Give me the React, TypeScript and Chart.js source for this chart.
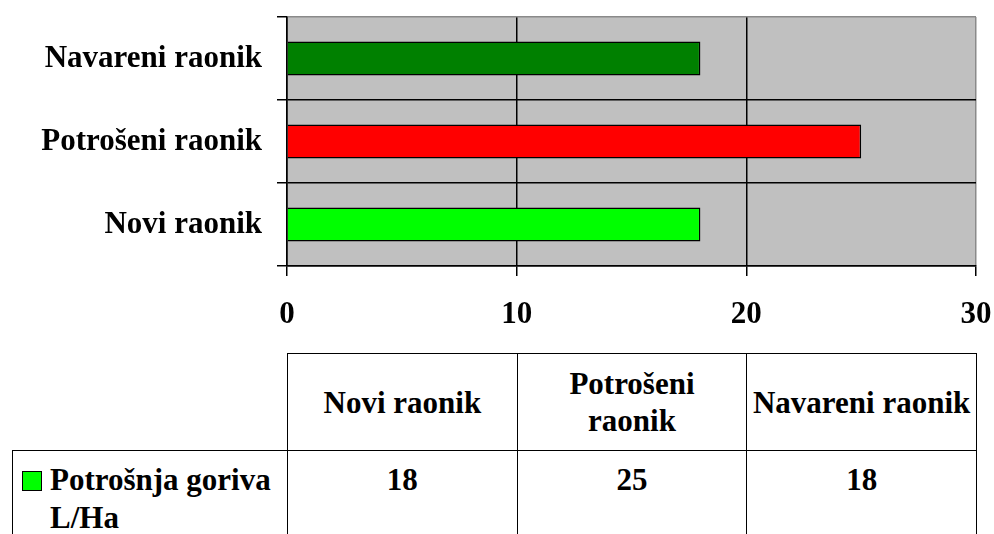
import React, { useEffect, useRef } from "react";
import { Chart, registerables } from "chart.js";

Chart.register(...registerables);

const categories = ["Novi raonik", "Potrošeni raonik", "Navareni raonik"];
const tableHeaders = ["Novi raonik", "Potrošeni\nraonik", "Navareni raonik"];
const fuelUse = [18, 25, 18];
const seriesName = "Potrošnja goriva L/Ha";
const xTickValues = [0, 10, 20, 30];
const barColors = ["#00FF00", "#FF0000", "#008000"];
const legendColor = "#00FF00";

const FONT = '"Liberation Serif", "Times New Roman", serif';
const CANVAS_H = 345;

export default function App() {
  const ref = useRef<HTMLCanvasElement>(null);

  useEffect(() => {
    const plotBg = {
      id: "plotBg",
      beforeDraw(chart: any) {
        const { ctx, chartArea: a } = chart;
        ctx.save();
        ctx.fillStyle = "#C0C0C0";
        ctx.fillRect(a.left, a.top, a.right - a.left, a.bottom - a.top);
        ctx.restore();
      },
    };
    const tickFont = { family: FONT, size: 31, weight: "bold" as const };
    const chart = new Chart(ref.current as HTMLCanvasElement, {
      type: "bar",
      data: {
        labels: categories,
        datasets: [
          {
            label: seriesName,
            data: fuelUse,
            backgroundColor: barColors,
            borderColor: "#000",
            borderWidth: 1.5,
            barPercentage: 0.41,
            categoryPercentage: 1,
          },
        ],
      },
      options: {
        indexAxis: "y",
        responsive: false,
        animation: false,
        devicePixelRatio: 1,
        layout: { padding: { top: 17, right: 18, left: 0, bottom: 0 } },
        plugins: { legend: { display: false }, tooltip: { enabled: false } },
        scales: {
          x: {
            min: xTickValues[0],
            max: xTickValues[xTickValues.length - 1],
            afterBuildTicks: (s: any) => {
              s.ticks = xTickValues.map((v) => ({ value: v }));
            },
            grid: {
              color: (ctx: any) =>
                ctx.tick && ctx.tick.value === xTickValues[xTickValues.length - 1] ? "#8a8a8a" : "#000",
              tickColor: "#000",
              lineWidth: 1.5,
              tickLength: 10,
            },
            border: { color: "#000", width: 1.5 },
            ticks: { color: "#000", font: tickFont, padding: 20, maxRotation: 0 },
            afterFit: (s: any) => {
              s.height = CANVAS_H - 266;
              s.paddingLeft = 0;
              s.paddingRight = 0;
            },
          },
          y: {
            reverse: true,
            grid: {
              offset: true,
              color: (ctx: any) => (ctx.tick ? "#000" : "#8a8a8a"),
              tickColor: "#000",
              lineWidth: 1.5,
              tickLength: 10,
            },
            border: { color: "#000", width: 1.5 },
            ticks: { color: "#000", font: tickFont, padding: 15 },
            afterFit: (s: any) => {
              s.width = 287;
              s.paddingTop = 0;
              s.paddingBottom = 0;
            },
          },
        },
      } as any,
      plugins: [plotBg],
    });
    return () => chart.destroy();
  }, []);

  const cellBorder = "1.5px solid #000";
  const colW = (976 - 287) / categories.length;

  return (
    <div
      style={{
        position: "fixed",
        left: 0,
        top: 0,
        width: 994,
        height: 534,
        overflow: "hidden",
        background: "#fff",
      }}
    >
      <canvas
        ref={ref}
        width={994}
        height={CANVAS_H}
        style={{ position: "absolute", left: 0, top: 0, width: 994, height: CANVAS_H }}
      />
      <table
        style={{
          position: "absolute",
          left: 12,
          top: 353,
          borderCollapse: "collapse",
          tableLayout: "fixed",
          width: 964,
          fontFamily: FONT,
          fontWeight: "bold",
          fontSize: 31,
          color: "#000",
        }}
      >
        <colgroup>
          <col style={{ width: 275 }} />
          {categories.map((c) => (
            <col key={c} style={{ width: colW }} />
          ))}
        </colgroup>
        <tbody>
          <tr style={{ height: 97 }}>
            <td style={{ border: "none", padding: 0 }}></td>
            {tableHeaders.map((h) => (
              <td
                key={h}
                style={{
                  border: cellBorder,
                  textAlign: "center",
                  verticalAlign: "middle",
                  whiteSpace: "pre-line",
                  lineHeight: "37px",
                  padding: 0,
                }}
              >
                {h}
              </td>
            ))}
          </tr>
          <tr style={{ height: 110 }}>
            <td
              style={{
                border: cellBorder,
                verticalAlign: "top",
                padding: "10px 0 0 9px",
                lineHeight: "38px",
              }}
            >
              <div style={{ display: "flex", alignItems: "flex-start" }}>
                <span
                  style={{
                    display: "inline-block",
                    flex: "0 0 auto",
                    width: 20,
                    height: 20,
                    boxSizing: "border-box",
                    border: "1.5px solid #000",
                    background: legendColor,
                    marginTop: 10,
                    marginRight: 8,
                  }}
                />
                <span>{seriesName}</span>
              </div>
            </td>
            {fuelUse.map((v, i) => (
              <td
                key={i}
                style={{
                  border: cellBorder,
                  textAlign: "center",
                  verticalAlign: "top",
                  padding: "10px 0 0 0",
                  lineHeight: "38px",
                }}
              >
                {v}
              </td>
            ))}
          </tr>
        </tbody>
      </table>
    </div>
  );
}
